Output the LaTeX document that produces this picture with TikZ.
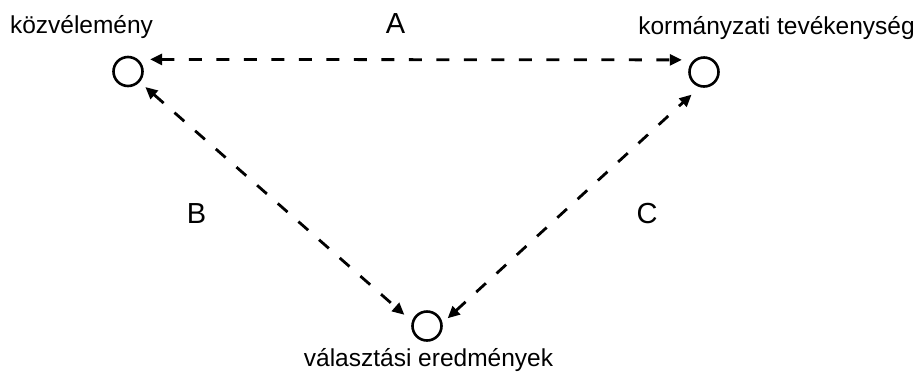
\documentclass[tikz,border=0pt]{standalone}
\usepackage{fontspec}
\setmainfont{Liberation Sans}
\usetikzlibrary{arrows.meta,positioning}

\begin{document}
\begin{tikzpicture}[
    x=1pt, y=-1pt,
    spot/.style={draw, circle, line width=2.6pt, minimum size=29pt, inner sep=0pt},
    link/.style={{Triangle[length=12pt,width=11pt]}-{Triangle[length=12pt,width=11pt]}, line width=2.8pt, dash pattern=on 13pt off 14.5pt},
    lbl/.style={inner sep=0pt, anchor=base, font=\fontsize{24.5}{29}\selectfont},
    tag/.style={inner sep=0pt, font=\fontsize{29}{34}\selectfont},
]
    \useasboundingbox (0,0) rectangle (919,376);

    \node[spot] (kozv) at (128,71.5) {};
    \node[spot] (korm) at (704,72) {};
    \node[spot] (valasz) at (427,326) {};

    \node[lbl] (kozvtext) at (81.5,33) {közvélemény};
    \node[lbl] (kormtext) at (776.5,34) {kormányzati tevékenység};
    \node[lbl] (valasztext) at (428.5,366) {választási eredmények};

    \draw[link, shorten <=12pt, shorten >=12pt] (kozv.50) -- (korm.130);
    \draw[link, shorten <=7.5pt, shorten >=10pt] (kozv.-42) -- (valasz.163);
    \draw[link, shorten <=7pt, shorten >=11pt] (valasz.11) -- (korm.-106);

    \node[tag] (tagA) at (395.5,23.5) {A};
    \node[tag] (tagB) at (196.5,213.5) {B};
    \node[tag] (tagC) at (647,213.5) {C};
\end{tikzpicture}
\end{document}
